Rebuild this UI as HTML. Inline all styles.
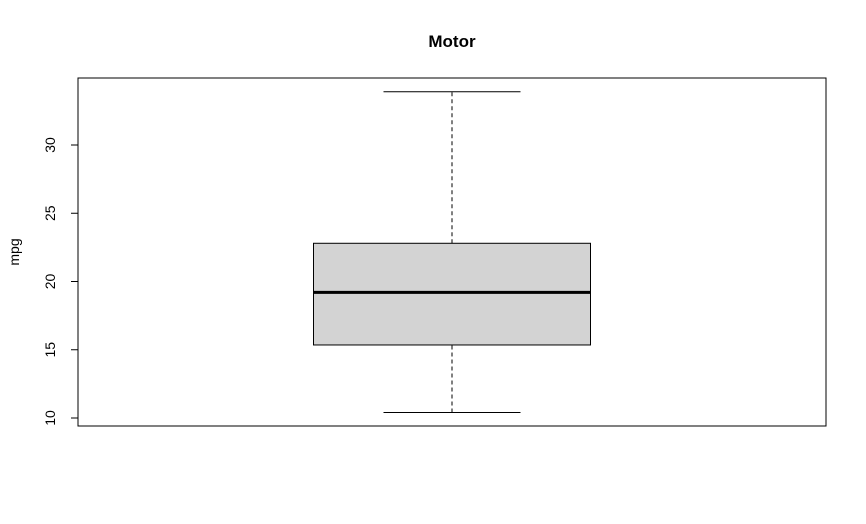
<!DOCTYPE html>
<html><head><meta charset="utf-8"><style>
html,body{margin:0;padding:0;background:#fff;width:866px;height:524px;overflow:hidden}
text{font-family:"Liberation Sans",Arial,sans-serif}
</style></head><body>
<svg id="chart" width="866" height="524" viewBox="0 0 866 524" xmlns="http://www.w3.org/2000/svg">
<rect x="0" y="0" width="866" height="524" fill="#fff"/>
<text x="452" y="47" text-anchor="middle" font-size="17" font-weight="bold">Motor</text>
<rect x="78" y="78" width="748" height="348" fill="none" stroke="#000" stroke-width="1"/>
<text transform="translate(19,252) rotate(-90)" text-anchor="middle" font-size="14">mpg</text>
<g id="axis"></g>
<g id="marks"></g>
</svg>
<script>
const yTicks = [10, 15, 20, 25, 30];
const stats = [10.4, 15.35, 19.2, 22.8, 33.9]; // min, q1, median, q3, max
const categories = ["mpg"];
const NS = "http://www.w3.org/2000/svg";
function y(v){ return 418 - (v - 10) * 13.65; }
function mk(tag, attrs, parent){ const e=document.createElementNS(NS,tag); for(const k in attrs) e.setAttribute(k,attrs[k]); parent.appendChild(e); return e; }
const ax = document.getElementById('axis');
const axl = mk('line',{x1:78,x2:78,y1:y(yTicks[0]),y2:y(yTicks[yTicks.length-1]),stroke:'#000'},ax);


yTicks.forEach(t=>{
  const l = mk('line',{x1:71,x2:78,y1:y(t),y2:y(t),stroke:'#000'},ax);
  
  
  const tx = mk('text',{transform:`translate(55,${y(t)}) rotate(-90)`,'text-anchor':'middle','font-size':'14'},ax);
  tx.textContent = t;
  
  
});
const m = document.getElementById('marks');
const cx = 452, bh = 138.5, wh = 68.5;
const w1 = mk('line',{x1:cx,x2:cx,y1:y(stats[0]),y2:y(stats[1]),stroke:'#000','stroke-dasharray':'4,3'},m);


const w2 = mk('line',{x1:cx,x2:cx,y1:y(stats[3]),y2:y(stats[4]),stroke:'#000','stroke-dasharray':'4,3'},m);


const c1 = mk('line',{x1:cx-wh,x2:cx+wh,y1:y(stats[0]),y2:y(stats[0]),stroke:'#000'},m);


const c2 = mk('line',{x1:cx-wh,x2:cx+wh,y1:y(stats[4]),y2:y(stats[4]),stroke:'#000'},m);


const b = mk('rect',{x:cx-bh,y:y(stats[3]),width:2*bh,height:y(stats[1])-y(stats[3]),fill:'#d3d3d3',stroke:'#000'},m);


const md = mk('line',{x1:cx-bh,x2:cx+bh,y1:y(stats[2]),y2:y(stats[2]),stroke:'#000','stroke-width':3},m);


</script>
</body></html>
